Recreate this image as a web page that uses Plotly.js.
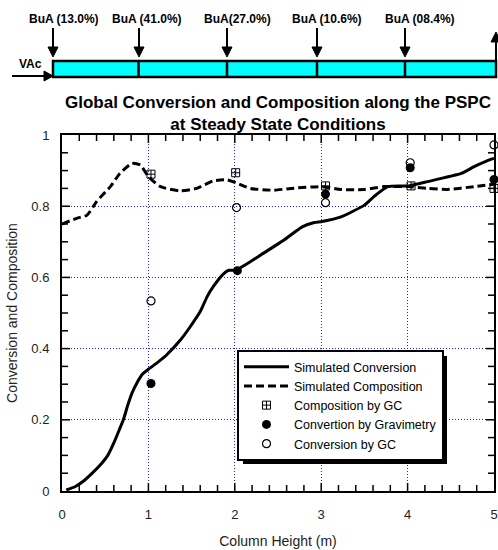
<!DOCTYPE html>
<html>
<head>
<meta charset="utf-8">
<script src="https://cdn.plot.ly/plotly-3.0.1.min.js"></script>
<style>html,body{margin:0;padding:0;background:#fff;}#chart{width:498px;height:550px;}</style>
</head>
<body>
<div id="chart"></div>
<script>
// ---- data ----
const simConvX = [0.05,0.15,0.25,0.35,0.45,0.53,0.60,0.66,0.71,0.76,0.81,0.87,0.93,1.0,1.1,1.21,1.37,1.48,1.6,1.68,1.75,1.87,1.93,2.01,2.18,2.30,2.57,2.78,2.92,3.01,3.23,3.50,3.61,3.77,4.01,4.23,4.62,4.77,4.97,5.0];
const simConvY = [0.003,0.012,0.028,0.05,0.075,0.10,0.135,0.17,0.20,0.24,0.275,0.305,0.328,0.342,0.36,0.382,0.424,0.46,0.504,0.546,0.574,0.61,0.62,0.62,0.644,0.663,0.705,0.742,0.754,0.757,0.77,0.803,0.827,0.855,0.857,0.869,0.892,0.911,0.932,0.934];
const simCompX = [0.0,0.17,0.29,0.40,0.56,0.67,0.81,0.905,1.0,1.14,1.37,1.56,1.75,1.91,2.01,2.18,2.45,2.65,3.01,3.23,3.50,3.73,4.01,4.23,4.46,4.77,5.0];
const simCompY = [0.75,0.766,0.775,0.813,0.855,0.892,0.92,0.916,0.883,0.855,0.843,0.85,0.871,0.874,0.866,0.85,0.845,0.85,0.855,0.847,0.847,0.855,0.855,0.85,0.847,0.855,0.862];
const gcCompX = [1.03,2.01,3.05,4.04,5.0];
const gcCompY = [0.89,0.894,0.857,0.857,0.85];
const gravX = [1.03,2.03,3.05,4.03,5.0];
const gravY = [0.302,0.619,0.834,0.908,0.875];
const gcConvX = [1.03,2.02,3.05,4.03,5.0];
const gcConvY = [0.534,0.796,0.81,0.922,0.972];
const feedLabels = ['BuA (13.0%)','BuA (41.0%)','BuA(27.0%)','BuA (10.6%)','BuA (08.4%)'];
// tick positions (axis decoration)
const xMajorTicks = [1, 2, 3, 4];
const xMinorTicks = [0.2,0.4,0.6,0.8,1.2,1.4,1.6,1.8,2.2,2.4,2.6,2.8,3.2,3.4,3.6,3.8,4.2,4.4,4.6,4.8];
const yMajorTicks = [0.2, 0.4, 0.6, 0.8];
const yMinorTicks = [0.05,0.1,0.15,0.25,0.3,0.35,0.45,0.5,0.55,0.65,0.7,0.75,0.85,0.9,0.95];

// ---- layout helpers (pixel -> paper) ----
const L = 62, R = 494, T = 135, B = 491;
const px = x => (x - L) / (R - L);
const py = y => (B - y) / (B - T);

const FONT = 'Liberation Sans, Arial, sans-serif';

const traces = [
  {x: simConvX, y: simConvY, mode: 'lines', name: 'Simulated Conversion',
   line: {color: '#000', width: 3, shape: 'spline', smoothing: 0.5}},
  {x: simCompX, y: simCompY, mode: 'lines', name: 'Simulated Composition',
   line: {color: '#000', width: 3, dash: '8px,4px', shape: 'spline', smoothing: 0.6}},
  {x: gcCompX, y: gcCompY, mode: 'markers', name: 'Composition by GC', cliponaxis: false,
   marker: {symbol: 'square-cross-open', size: 8, color: '#000', line: {width: 1, color: '#000'}}},
  {x: gravX, y: gravY, mode: 'markers', name: 'Convertion by Gravimetry', cliponaxis: false,
   marker: {symbol: 'circle', size: 9, color: '#000'}},
  {x: gcConvX, y: gcConvY, mode: 'markers', name: 'Conversion by GC', cliponaxis: false,
   marker: {symbol: 'circle-open', size: 8, color: '#000', line: {width: 1.2, color: '#000'}}}
];

const shapes = [];
const annotations = [];

// inside tick marks on all four sides, placed through the axes' own scales
const tx = len => len / (R - L);
const ty = len => len / (B - T);
function xTick(v, len) {
  shapes.push({type: 'line', xref: 'x', yref: 'paper', x0: v, x1: v, y0: 0, y1: ty(len), line: {color: '#000', width: 1.5}});
  shapes.push({type: 'line', xref: 'x', yref: 'paper', x0: v, x1: v, y0: 1 - ty(len), y1: 1, line: {color: '#000', width: 1.5}});
}
function yTick(v, len) {
  shapes.push({type: 'line', xref: 'paper', yref: 'y', x0: 0, x1: tx(len), y0: v, y1: v, line: {color: '#000', width: 1.5}});
  shapes.push({type: 'line', xref: 'paper', yref: 'y', x0: 1 - tx(len), x1: 1, y0: v, y1: v, line: {color: '#000', width: 1.5}});
}
xMajorTicks.forEach(v => xTick(v, 8));
xMinorTicks.forEach(v => xTick(v, 6));
yMajorTicks.forEach(v => yTick(v, 8));
yMinorTicks.forEach(v => yTick(v, 6));

// top diagram (column with feed points)
const segEdges = [53, 138.5, 227, 317, 405, 496];
const arrowX = [53, 139, 227, 317, 405];
const labelX = [64, 147, 237, 327, 420];
shapes.push({type: 'rect', xref: 'paper', yref: 'paper', x0: px(53), x1: px(496), y0: py(77), y1: py(61),
  fillcolor: '#00ffff', line: {color: '#000', width: 2.5}});
for (let i = 1; i < segEdges.length - 1; i++) {
  shapes.push({type: 'line', xref: 'paper', yref: 'paper', x0: px(segEdges[i]), x1: px(segEdges[i]), y0: py(61), y1: py(77),
    line: {color: '#000', width: 2.5}});
}
arrowX.forEach((ax, i) => {
  shapes.push({type: 'line', xref: 'paper', yref: 'paper', x0: px(ax), x1: px(ax), y0: py(28), y1: py(48),
    line: {color: '#000', width: 2}});
  shapes.push({type: 'path', xref: 'paper', yref: 'paper',
    path: 'M' + px(ax - 5) + ',' + py(47) + ' L' + px(ax + 5) + ',' + py(47) + ' L' + px(ax) + ',' + py(57) + ' Z',
    fillcolor: '#000', line: {color: '#000', width: 1}});
  annotations.push({xref: 'paper', yref: 'paper', x: px(labelX[i]), y: py(19), text: '<b>' + feedLabels[i] + '</b>',
    showarrow: false, xanchor: 'center', yanchor: 'middle', font: {family: FONT, size: 12, color: '#000'}});
});
// VAc inlet arrow
shapes.push({type: 'line', xref: 'paper', yref: 'paper', x0: px(12), x1: px(45), y0: py(76), y1: py(76),
  line: {color: '#000', width: 2}});
shapes.push({type: 'path', xref: 'paper', yref: 'paper',
  path: 'M' + px(44) + ',' + py(71) + ' L' + px(53) + ',' + py(76) + ' L' + px(44) + ',' + py(81) + ' Z',
  fillcolor: '#000', line: {color: '#000', width: 1}});
annotations.push({xref: 'paper', yref: 'paper', x: px(30), y: py(64), text: '<b>VAc</b>', showarrow: false,
  xanchor: 'center', yanchor: 'middle', font: {family: FONT, size: 12, color: '#000'}});
// outlet arrow (up)
shapes.push({type: 'line', xref: 'paper', yref: 'paper', x0: px(496), x1: px(496), y0: py(60), y1: py(41),
  line: {color: '#000', width: 2}});
shapes.push({type: 'path', xref: 'paper', yref: 'paper',
  path: 'M' + px(491) + ',' + py(42) + ' L' + px(496) + ',' + py(32) + ' L' + px(501) + ',' + py(42) + ' Z',
  fillcolor: '#000', line: {color: '#000', width: 1}});

const axisBase = {showline: true, mirror: true, linecolor: '#000', linewidth: 2,
  ticks: 'outside', tickcolor: 'rgba(0,0,0,0)', zeroline: false,
  showgrid: true, gridcolor: 'rgb(30,30,240)', griddash: '1px,2px', gridwidth: 1};

const layout = {
  width: 498, height: 550,
  margin: {l: L, r: 498 - R, t: T, b: 550 - B},
  paper_bgcolor: '#fff', plot_bgcolor: '#fff',
  font: {family: FONT, size: 13, color: '#000'},
  showlegend: true,
  title: {text: '<b>Global Conversion and Composition along the PSPC<br>at Steady State Conditions</b>',
    font: {family: FONT, size: 17, color: '#000'}, x: 0.5, xref: 'paper', xanchor: 'center',
    y: 1 - 108 / 550, yref: 'container', yanchor: 'middle'},
  xaxis: Object.assign({}, axisBase, {range: [0, 5], dtick: 1, tick0: 0, ticklen: 10,
    tickfont: {size: 13, color: '#222'},
    title: {text: 'Column Height (m)', font: {size: 14, color: '#222'}, standoff: 16}}),
  yaxis: Object.assign({}, axisBase, {range: [0, 1], dtick: 0.2, tick0: 0, ticklen: 8,
    tickfont: {size: 13, color: '#222'},
    title: {text: 'Conversion and Composition', font: {size: 14, color: '#222'}, standoff: 10}}),
  legend: {x: px(237), y: py(350), xanchor: 'left', yanchor: 'top', bgcolor: '#fff', bordercolor: '#000', borderwidth: 2,
    font: {family: FONT, size: 12.5, color: '#000'}, itemwidth: 45, tracegroupgap: 0, entrywidth: 184},
  shapes: shapes,
  annotations: annotations
};

Plotly.newPlot('chart', traces, layout, {displayModeBar: false}).then(gd => {
  // drop shadow behind the legend box, sized from the rendered legend
  const bg = gd.querySelector('.legend .bg');
  if (!bg) return;
  const host = gd.getBoundingClientRect();
  const r = bg.getBoundingClientRect();
  const x0 = r.left - host.left + 5, x1 = r.right - host.left + 4;
  const y0 = r.top - host.top + 5, y1 = r.bottom - host.top + 4;
  const shadow = {type: 'rect', xref: 'paper', yref: 'paper', layer: 'above',
    x0: px(x0), x1: px(x1), y0: py(y1), y1: py(y0), fillcolor: '#000', line: {width: 0}};
  return Plotly.relayout(gd, {shapes: shapes.concat([shadow])});
});
</script>
</body>
</html>
